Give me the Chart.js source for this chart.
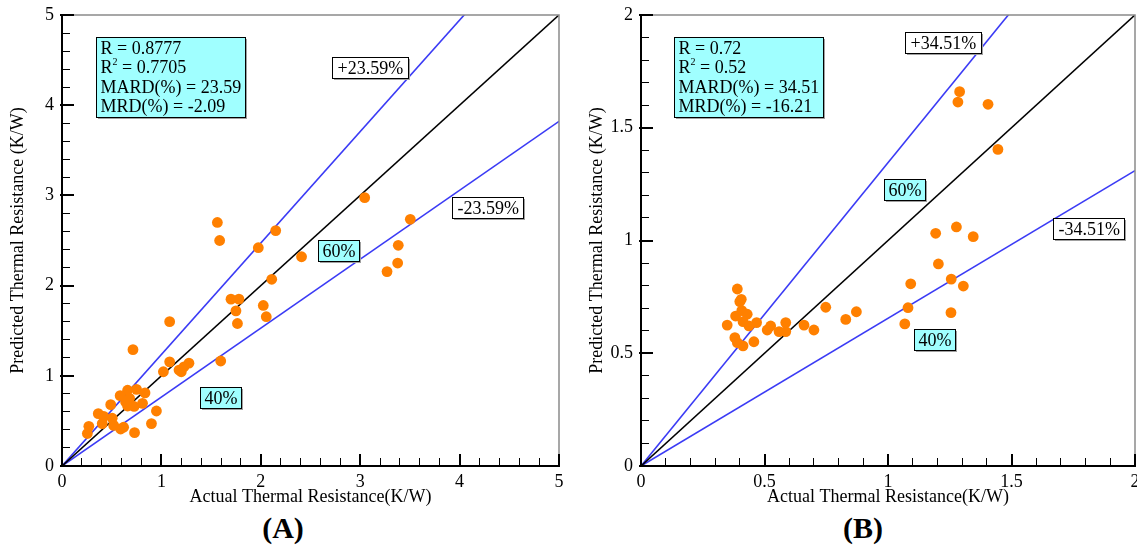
<!DOCTYPE html>
<html><head><meta charset="utf-8">
<script src="https://cdn.jsdelivr.net/npm/chart.js@4.4.1/dist/chart.umd.min.js"></script>
<style>
html,body{margin:0;padding:0;background:#fff;overflow:hidden;width:1137px;height:550px;position:relative;}
.wrap{position:absolute;top:0;height:508px;}
#wa{left:0;width:575px;}
#wb{left:579px;width:570px;}
.lab{position:absolute;top:511px;width:80px;text-align:center;font:bold 30px 'Liberation Serif','Times New Roman',serif;line-height:34px;color:#000;}
</style></head>
<body>
<div class="wrap" id="wa"><canvas id="ca"></canvas></div>
<div class="wrap" id="wb"><canvas id="cb"></canvas></div>
<div class="lab" style="left:243px">(A)</div>
<div class="lab" style="left:823px">(B)</div>
<script>
// ---------- data (A) ----------
const actualA    = [0.255,0.27,0.365,0.42,0.405,0.49,0.505,0.52,0.59,0.62,0.585,0.66,0.64,0.68,0.66,0.725,0.75,0.81,0.835,0.714,0.73,0.90,0.95,1.02,1.083,1.083,1.177,1.20,1.227,1.277,1.597,1.70,1.78,1.75,1.765,2.025,2.055,2.11,1.563,1.586,1.975,2.15,2.41,3.045,3.504,3.383,3.377,3.27];
const predictedA = [0.36,0.44,0.58,0.55,0.47,0.68,0.53,0.45,0.41,0.43,0.78,0.84,0.71,0.75,0.665,0.66,0.85,0.695,0.81,1.29,0.37,0.47,0.61,1.045,1.155,1.60,1.064,1.045,1.10,1.14,1.164,1.85,1.85,1.72,1.58,1.78,1.655,2.07,2.70,2.50,2.42,2.61,2.32,2.975,2.735,2.447,2.25,2.155];
// ---------- data (B) ----------
const actualB    = [0.349,0.39,0.40,0.406,0.383,0.408,0.43,0.413,0.437,0.468,0.38,0.39,0.413,0.457,0.511,0.525,0.559,0.586,0.586,0.66,0.70,0.748,0.829,0.872,1.29,1.283,1.405,1.445,1.277,1.193,1.345,1.204,1.092,1.256,1.305,1.081,1.255,1.068];
const predictedB = [0.625,0.785,0.729,0.739,0.665,0.689,0.673,0.64,0.621,0.636,0.569,0.547,0.533,0.551,0.603,0.621,0.596,0.636,0.596,0.625,0.603,0.704,0.65,0.684,1.66,1.614,1.604,1.404,1.06,1.032,1.017,0.896,0.808,0.829,0.798,0.702,0.68,0.63];
// ---------- axis / statistics ----------
const xTitle = 'Actual Thermal Resistance(K/W)';
const yTitle = 'Predicted Thermal Resistance (K/W)';
const mardA = 23.59, mardB = 34.51;
const statsA = ['R = 0.8777','R^2 = 0.7705','MARD(%) = 23.59','MRD(%) = -2.09'];
const statsB = ['R = 0.72','R^2 = 0.52','MARD(%) = 34.51','MRD(%) = -16.21'];

const FONT = "'Liberation Serif','Times New Roman',serif";
const ORANGE = '#ff8000', BLUE = '#3b3bf5';
const TICK_IN = 8;

function framePlugin(cfg) {
  return {
    id: 'frameTicks',
    afterDraw(chart) {
      const {ctx, chartArea: a, scales: {x, y}} = chart;
      ctx.save();
      ctx.setLineDash([]);
      ctx.strokeStyle = '#8a8a8a'; ctx.lineWidth = 1.5;
      ctx.beginPath(); ctx.moveTo(a.left, a.top); ctx.lineTo(a.right, a.top); ctx.lineTo(a.right, a.bottom); ctx.stroke();
      // longer major ticks
      ctx.fillStyle = '#000000';
      for (const t of x.ticks) {
        if (!cfg.isMajor(t.value)) continue;
        const px = Math.round(x.getPixelForValue(t.value));
        ctx.fillRect(px - 1, a.bottom - 12, 2, 12);
      }
      for (const t of y.ticks) {
        if (!cfg.isMajor(t.value)) continue;
        const py = Math.round(y.getPixelForValue(t.value));
        ctx.fillRect(a.left - 2, py - 1, 14, 2);
      }
      // text boxes
      for (const b of cfg.boxes) {
        const fs = b.size;
        ctx.font = fs + 'px ' + FONT;
        const lh = b.lh;
        let w = 0;
        for (const l of b.lines) {
          const plain = l.replace('^', '');
          let tw = ctx.measureText(plain).width;
          if (l.includes('^')) tw -= ctx.measureText('2').width * 0.45;
          w = Math.max(w, tw);
        }
        const bx = Math.round(x.getPixelForValue(b.x)) + 0.5;
        const by = Math.round(y.getPixelForValue(b.y)) + 0.5;
        const bw = Math.round(w + 2 * b.pad), bh = Math.round(b.lines.length * lh + b.padY);
        ctx.fillStyle = '#a0a0a0';
        ctx.fillRect(bx + 1.5, by + 1.5, bw, bh);
        ctx.fillStyle = b.bg;
        ctx.fillRect(bx, by, bw, bh);
        ctx.strokeStyle = '#000'; ctx.lineWidth = 1;
        ctx.strokeRect(bx, by, bw, bh);
        ctx.fillStyle = '#000';
        ctx.textBaseline = 'middle'; ctx.textAlign = 'left';
        b.lines.forEach((l, i) => {
          const ty = by + b.padY / 2 + lh * (i + 0.5) + 1;
          let tx = bx + b.pad;
          if (l.includes('^')) {
            const [pre, rest] = l.split('^');
            ctx.font = fs + 'px ' + FONT;
            ctx.fillText(pre, tx, ty);
            tx += ctx.measureText(pre).width;
            ctx.font = Math.round(fs * 0.55) + 'px ' + FONT;
            ctx.fillText(rest[0], tx, ty - fs * 0.35);
            tx += ctx.measureText(rest[0]).width;
            ctx.font = fs + 'px ' + FONT;
            ctx.fillText(rest.slice(1), tx, ty);
          } else {
            ctx.font = fs + 'px ' + FONT;
            ctx.fillText(l, tx, ty);
          }
        });
      }
      ctx.restore();
    }
  };
}

function makeChart(id, xs, ys, xMax, step, minor, mard, stats, labels, padRight) {
  const pts = xs.map((v, i) => ({x: v, y: ys[i]}));
  const up = 1 + mard / 100, lo = 1 - mard / 100;
  const isMajor = (v) => Math.abs(v / step - Math.round(v / step)) < 1e-6;
  const lineDs = (k, color) => ({
    type: 'line', data: [{x: 0, y: 0}, {x: xMax, y: k * xMax}],
    borderColor: color, borderWidth: 1.6, pointRadius: 0, showLine: true, fill: false
  });
  const boxes = [
    {x: labels.stats[0], y: labels.stats[1], lines: stats, bg: '#a0ffff', size: 18, lh: 19.5, pad: 4, padY: 2},
    {x: labels.plus[0], y: labels.plus[1], lines: ['+' + mard.toFixed(2) + '%'], bg: '#ffffff', size: 18, lh: 19, pad: 5, padY: 2},
    {x: labels.minus[0], y: labels.minus[1], lines: ['-' + mard.toFixed(2) + '%'], bg: '#ffffff', size: 18, lh: 19, pad: 5, padY: 2},
    {x: labels.p60[0], y: labels.p60[1], lines: ['60%'], bg: '#a0ffff', size: 18, lh: 19, pad: 4, padY: 2},
    {x: labels.p40[0], y: labels.p40[1], lines: ['40%'], bg: '#a0ffff', size: 18, lh: 19, pad: 4, padY: 2}
  ];
  const tickFont = {family: FONT, size: 18};
  const fmt = (v) => isMajor(v) ? String(Number(Number(v).toFixed(2))) : '';
  const grid = {
    display: true, drawOnChartArea: false, drawTicks: true, tickLength: -TICK_IN,
    color: '#000', tickColor: '#000',
    lineWidth: (c) => (c.tick && isMajor(c.tick.value)) ? 2 : 1,
    tickWidth: (c) => (c.tick && isMajor(c.tick.value)) ? 2 : 1
  };
  return new Chart(document.getElementById(id), {
    type: 'scatter',
    data: {datasets: [
      {data: pts, backgroundColor: ORANGE, borderColor: ORANGE, pointRadius: 5.4, pointBorderWidth: 0, pointHoverRadius: 5.4},
      lineDs(1, '#000000'),
      lineDs(up, BLUE),
      lineDs(lo, BLUE)
    ]},
    options: {
      responsive: true, maintainAspectRatio: false, animation: false,
      layout: {padding: {top: 15, right: padRight, left: 0, bottom: 0}},
      plugins: {legend: {display: false}, tooltip: {enabled: false}},
      scales: {
        x: {type: 'linear', min: 0, max: xMax,
          afterFit(s) { s.height = 42; s.paddingLeft = 0; s.paddingRight = 0; },
          grid: grid, border: {display: true, color: '#000', width: 2},
          ticks: {stepSize: minor, padding: 5 + TICK_IN, color: '#000', font: tickFont, maxRotation: 0, autoSkip: false, callback: fmt},
          title: {display: true, text: xTitle, color: '#000', font: {family: FONT, size: 18}, padding: {top: 0, bottom: 0}}},
        y: {type: 'linear', min: 0, max: xMax,
          afterFit(s) { s.width = 62; s.paddingTop = 0; s.paddingBottom = 0; },
          grid: grid, border: {display: true, color: '#000', width: 2},
          ticks: {stepSize: minor, padding: 8 + TICK_IN, color: '#000', font: tickFont, autoSkip: false, callback: fmt},
          title: {display: true, text: yTitle, color: '#000', font: {family: FONT, size: 18}, padding: {top: 7, bottom: 0}}}
      }
    },
    plugins: [framePlugin({isMajor: isMajor, boxes: boxes})]
  });
}

makeChart('ca', actualA, predictedA, 5, 1, 0.2, mardA, statsA,
  {stats: [0.342, 4.756], plus: [2.716, 4.534], minus: [3.924, 2.982], p60: [2.575, 2.506], p40: [1.388, 0.876]}, 16);
makeChart('cb', actualB, predictedB, 2, 0.5, 0.1, mardB, statsB,
  {stats: [0.134, 1.902], plus: [1.069, 1.925], minus: [1.668, 1.100], p60: [0.984, 1.273], p40: [1.105, 0.608]}, 14);
</script>
</body></html>
